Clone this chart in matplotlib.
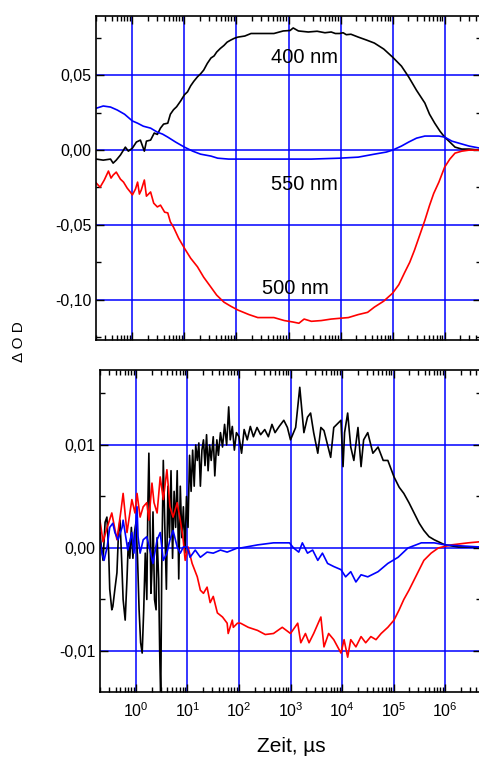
import numpy as np
import matplotlib
matplotlib.use('Agg')
import matplotlib.pyplot as plt
from matplotlib.ticker import LogLocator, MultipleLocator, FuncFormatter, NullFormatter, LogFormatterMathtext

plt.rcParams['font.family'] = ['Liberation Sans', 'DejaVu Sans']

# ---- oberes Bild: log10(t/us) und dOD ----
lg400 = [-0.695, -0.56, -0.42, -0.37, -0.31, -0.23, -0.135, -0.077, 0.0, 0.077, 0.154, 0.23, 0.27, 0.35,
         0.42, 0.48, 0.54, 0.60, 0.68, 0.73, 0.79, 0.85, 0.93, 1.0, 1.06, 1.12, 1.18, 1.25, 1.31, 1.37,
         1.44, 1.51, 1.57, 1.62, 1.69, 1.76, 1.82, 1.89, 1.96, 2.03, 2.16, 2.28, 2.47, 2.72, 2.90, 3.03,
         3.09, 3.19, 3.38, 3.55, 3.70, 3.82, 3.90, 3.98, 4.05, 4.11, 4.20, 4.34, 4.50, 4.65, 4.83, 5.0,
         5.17, 5.31, 5.46, 5.62, 5.71, 5.81, 5.91, 6.0, 6.10, 6.20, 6.33, 6.47, 6.68]
od400 = [-0.006, -0.0067, -0.006, -0.0087, -0.0067, -0.0033, 0.002, -0.0007, 0.0013, 0.0054, 0.0067, -0.0007, 0.006, 0.0067,
         0.0114, 0.0105, 0.0147, 0.0174, 0.018, 0.024, 0.027, 0.029, 0.033, 0.037, 0.039, 0.043, 0.046, 0.049, 0.051, 0.0535,
         0.058, 0.0616, 0.0630, 0.0656, 0.0680, 0.070, 0.0722, 0.0736, 0.0748, 0.0756, 0.0763, 0.078, 0.078, 0.078, 0.0797, 0.080,
         0.0817, 0.0797, 0.079, 0.0795, 0.0785, 0.079, 0.0780, 0.078, 0.0785, 0.0772, 0.0775, 0.0756, 0.0736, 0.0716, 0.0676, 0.0622,
         0.0562, 0.0489, 0.040, 0.0315, 0.024, 0.018, 0.0127, 0.0087, 0.0054, 0.002, 0.0007, 0.0007, 0.0]

lg550 = [-0.695, -0.56, -0.42, -0.29, -0.15, 0.0, 0.10, 0.21, 0.35, 0.48, 0.58, 0.68, 0.83, 1.0, 1.16, 1.31,
         1.51, 1.64, 1.85, 2.03, 2.47, 3.03, 3.44, 3.98, 4.34, 4.65, 4.88, 5.0, 5.17, 5.31, 5.46, 5.62,
         5.89, 6.0, 6.14, 6.27, 6.47, 6.68]
od550 = [0.028, 0.0295, 0.0288, 0.0268, 0.024, 0.0195, 0.018, 0.016, 0.0147, 0.012, 0.0107, 0.0087, 0.0054, 0.002, -0.0007, -0.0027,
         -0.004, -0.0054, -0.006, -0.006, -0.006, -0.006, -0.006, -0.0054, -0.0047, -0.0027, -0.0013, 0.0, 0.0027, 0.0054, 0.008, 0.0094,
         0.0094, 0.0087, 0.006, 0.0047, 0.0027, 0.0013]

lg500 = [-0.695, -0.62, -0.54, -0.46, -0.41, -0.37, -0.31, -0.23, -0.17, -0.10, -0.04, 0.0, 0.06, 0.10, 0.135, 0.17,
         0.23, 0.27, 0.35, 0.41, 0.48, 0.54, 0.62, 0.68, 0.73, 0.79, 0.89, 1.0, 1.12, 1.25, 1.37, 1.51,
         1.62, 1.76, 1.89, 2.03, 2.24, 2.41, 2.72, 2.92, 3.09, 3.20, 3.30, 3.44, 3.63, 3.82, 3.98, 4.15,
         4.34, 4.52, 4.65, 4.83, 5.0, 5.12, 5.23, 5.33, 5.42, 5.52, 5.62, 5.71, 5.79, 5.89, 6.0, 6.10,
         6.20, 6.33, 6.47, 6.68]
od500 = [-0.022, -0.0248, -0.020, -0.014, -0.0187, -0.0167, -0.0147, -0.0194, -0.0214, -0.0254, -0.028, -0.030, -0.026, -0.0214, -0.0294, -0.0268,
         -0.020, -0.0308, -0.028, -0.0355, -0.038, -0.0368, -0.0415, -0.042, -0.048, -0.0515, -0.059, -0.0656, -0.0723, -0.078, -0.085, -0.0917,
         -0.097, -0.1017, -0.1044, -0.107, -0.110, -0.112, -0.112, -0.114, -0.115, -0.1158, -0.113, -0.1145, -0.114, -0.113, -0.1125, -0.112,
         -0.110, -0.1085, -0.105, -0.101, -0.0957, -0.090, -0.082, -0.075, -0.067, -0.057, -0.047, -0.037, -0.029, -0.0214, -0.0114, -0.006,
         -0.002, -0.0007, 0.0, 0.0]

# ---- unteres Bild ----
lg_k = [-0.70, -0.67, -0.64, -0.60, -0.565, -0.53, -0.51, -0.47, -0.45, -0.41, -0.37, -0.34, -0.31, -0.28, -0.25, -0.21,
        -0.175, -0.15, -0.12, -0.09, -0.06, -0.03, 0.0, 0.03, 0.06, 0.09, 0.12, 0.15, 0.18, 0.21, 0.23, 0.25,
        0.27, 0.29, 0.31, 0.33, 0.36, 0.39, 0.41, 0.44, 0.46, 0.48, 0.50, 0.53, 0.56, 0.59, 0.62, 0.65,
        0.68, 0.71, 0.74, 0.77, 0.80, 0.83, 0.86, 0.89, 0.92, 0.95, 0.98, 1.01, 1.04, 1.07, 1.10, 1.13,
        1.16, 1.19, 1.22, 1.25, 1.28, 1.31, 1.34, 1.37, 1.40, 1.43, 1.46, 1.50, 1.53, 1.57, 1.60, 1.64,
        1.68, 1.72, 1.76, 1.80, 1.83, 1.87, 1.91, 1.95, 2.0, 2.05, 2.10, 2.16, 2.22, 2.28, 2.35, 2.42,
        2.50, 2.57, 2.64, 2.70, 2.78, 2.87, 2.94, 3.0, 3.10, 3.18, 3.26, 3.33, 3.39, 3.45, 3.53, 3.59,
        3.65, 3.78, 3.84, 3.98, 4.02, 4.05, 4.11, 4.17, 4.23, 4.31, 4.37, 4.42, 4.50, 4.60, 4.70, 4.80,
        4.89, 5.01, 5.11, 5.20, 5.30, 5.40, 5.50, 5.59, 5.69, 5.79, 6.0, 6.26, 6.67]
od_k = [0.0015, 0.0, -0.0012, 0.0025, 0.0030, -0.0005, -0.0040, -0.0060, -0.0057, -0.0040, -0.0024, 0.0015, 0.0027, -0.0010, -0.0050, -0.0070,
        -0.0030, 0.0005, -0.0010, 0.0020, -0.0010, 0.0015, 0.0025, -0.0010, -0.0060, -0.0092, -0.0102, -0.0060, -0.0005, -0.0050, 0.0040, 0.0092,
        0.0030, -0.0044, -0.0020, 0.0035, -0.0050, -0.0060, 0.0010, -0.0030, -0.0100, -0.0148, -0.0020, 0.0085, 0.0020, -0.0040, 0.0060, 0.0010,
        0.0075, -0.0010, 0.0055, 0.0020, 0.0075, -0.0030, 0.0060, 0.0010, 0.0040, -0.0005, 0.0050, 0.0020, 0.0090, 0.0055, 0.0095, 0.0060,
        0.0100, 0.0085, 0.0102, 0.0060, 0.0095, 0.0105, 0.0080, 0.0110, 0.0075, 0.0100, 0.0085, 0.0108, 0.0070, 0.0105, 0.0090, 0.0112,
        0.0098, 0.0120, 0.0100, 0.0137, 0.0105, 0.0118, 0.0095, 0.0112, 0.0108, 0.0092, 0.0115, 0.0105, 0.0118, 0.0108, 0.0117, 0.0110,
        0.0115, 0.0108, 0.0120, 0.0112, 0.0118, 0.0124, 0.0117, 0.0105, 0.0117, 0.0156, 0.0112, 0.0127, 0.0131, 0.0112, 0.0092, 0.0117,
        0.0114, 0.0088, 0.0117, 0.0124, 0.0079, 0.0112, 0.0131, 0.0098, 0.0085, 0.0117, 0.0079, 0.0105, 0.0112, 0.0092, 0.0098, 0.0085,
        0.0085, 0.0069, 0.0059, 0.0053, 0.0044, 0.0034, 0.0024, 0.0017, 0.0011, 0.0008, 0.0003, 0.0001, 0.0001]

lg_r = [-0.70, -0.64, -0.56, -0.47, -0.37, -0.29, -0.25, -0.175, -0.08, -0.02, 0.02, 0.08, 0.14, 0.21, 0.25, 0.31,
        0.35, 0.41, 0.47, 0.53, 0.60, 0.66, 0.72, 0.80, 0.86, 0.91, 0.955, 1.01, 1.09, 1.19, 1.25, 1.31,
        1.38, 1.44, 1.50, 1.58, 1.68, 1.77, 1.79, 1.87, 1.89, 1.97, 2.03, 2.18, 2.36, 2.51, 2.67, 2.84,
        3.0, 3.14, 3.20, 3.29, 3.36, 3.45, 3.59, 3.65, 3.74, 3.84, 3.98, 4.04, 4.11, 4.17, 4.27, 4.37,
        4.46, 4.56, 4.66, 4.76, 4.89, 5.01, 5.11, 5.20, 5.30, 5.40, 5.50, 5.59, 5.73, 5.87, 6.12, 6.45, 6.67]
od_r = [0.0027, 0.0006, 0.002, 0.0034, 0.0008, 0.0037, 0.0053, 0.0015, 0.0047, 0.0034, 0.0053, 0.003, 0.004, 0.0044, 0.0027, 0.0063,
        0.0044, 0.0034, 0.0069, 0.0047, 0.0076, 0.004, 0.003, 0.0044, 0.0027, 0.0011, -0.0012, 0.0001, -0.0015, -0.0028, -0.0041, -0.0044,
        -0.0038, -0.0053, -0.0047, -0.0063, -0.0067, -0.0073, -0.0083, -0.007, -0.0077, -0.0073, -0.0073, -0.0077, -0.008, -0.0084, -0.0083, -0.0077,
        -0.0083, -0.0073, -0.0092, -0.0083, -0.0092, -0.0083, -0.0067, -0.0096, -0.0083, -0.0089, -0.0102, -0.0089, -0.0106, -0.0089, -0.0096, -0.0086,
        -0.0092, -0.0086, -0.0089, -0.0083, -0.0077, -0.007, -0.006, -0.005, -0.0041, -0.0031, -0.0021, -0.0012, -0.0005, 0.0, 0.0003, 0.0005, 0.0006]

lg_b = [-0.70, -0.66, -0.62, -0.56, -0.51, -0.45, -0.41, -0.35, -0.27, -0.25, -0.19, -0.16, -0.08, -0.04, 0.02, 0.04,
        0.08, 0.14, 0.21, 0.27, 0.33, 0.41, 0.47, 0.53, 0.60, 0.66, 0.72, 0.80, 0.86, 0.92, 0.99, 1.05,
        1.15, 1.25, 1.38, 1.50, 1.64, 1.77, 1.97, 2.03, 2.36, 2.67, 2.98, 3.06, 3.16, 3.23, 3.33, 3.43,
        3.53, 3.62, 3.72, 3.84, 3.98, 4.07, 4.17, 4.27, 4.37, 4.50, 4.70, 4.89, 5.09, 5.28, 5.54, 5.79,
        6.0, 6.67]
od_b = [0.0008, -0.0005, -0.0012, 0.0001, 0.002, 0.0024, 0.0015, 0.0008, 0.002, 0.0027, 0.0008, -0.0002, 0.0015, -0.0005, 0.004, 0.0011,
        -0.0005, 0.0008, 0.0011, -0.0002, -0.0015, 0.0008, 0.0015, -0.0012, -0.0005, 0.0008, 0.0017, 0.0001, -0.0005, 0.0001, 0.0001, -0.0009,
        -0.0002, -0.0009, -0.0004, -0.0005, -0.0002, -0.0004, 0.0, 0.0, 0.0003, 0.0005, 0.0005, 0.0, -0.0004, 0.0005, -0.0005, -0.0002,
        -0.0012, -0.0005, -0.0015, -0.0018, -0.0021, -0.0028, -0.0023, -0.0033, -0.0026, -0.0028, -0.0023, -0.0015, -0.0009, 0.0, 0.0005, 0.0005,
        0.0003, 0.0001]

labels = ['400 nm', '550 nm', '500 nm']
label_lg = [3.30, 3.30, 3.14]
label_od = [0.0622, -0.0228, -0.0923]

fig = plt.figure(figsize=(4.79, 7.58), dpi=100)
ax1 = fig.add_axes([96 / 479, 1 - 340 / 758, 385 / 479, 324 / 758])
ax2 = fig.add_axes([100 / 479, 1 - 692 / 758, 381 / 479, 322 / 758])

komma = FuncFormatter(lambda v, p: ('%.2f' % v).replace('.', ','))

for ax in (ax1, ax2):
    ax.set_xscale('log')
    ax.set_xlim(0.2, 5e6)
    ax.xaxis.set_major_locator(LogLocator(base=10, numticks=20))
    ax.xaxis.set_minor_locator(LogLocator(base=10, subs=np.arange(2, 10), numticks=20))
    ax.xaxis.set_minor_formatter(NullFormatter())
    ax.grid(True, which='major', color='#0000ff', lw=1.1)
    ax.set_axisbelow(True)
    ax.tick_params(which='both', direction='in', top=True, right=True, width=1.0, labelsize=11.5)
    ax.tick_params(which='major', length=6)
    ax.tick_params(which='minor', length=3.5)
    ax.tick_params(axis='x', pad=6.5)
    for s in ax.spines.values():
        s.set_linewidth(1.2)
    ax.yaxis.set_major_formatter(komma)

ax1.plot(10 ** np.array(lg400), od400, color='black', lw=1.2)
ax1.plot(10 ** np.array(lg550), od550, color='#0000ff', lw=1.2)
ax1.plot(10 ** np.array(lg500), od500, color='#ff0000', lw=1.2)
for t, x, y in zip(labels, label_lg, label_od):
    ax1.text(10 ** x, y, t, ha='center', va='center', fontsize=14.5)
ax1.set_ylim(-0.127, 0.0897)
ax1.yaxis.set_major_locator(MultipleLocator(0.05))
ax1.yaxis.set_minor_locator(MultipleLocator(0.025))
ax1.tick_params(labelbottom=False)

ax2.plot(10 ** np.array(lg_k), od_k, color='black', lw=1.2)
ax2.plot(10 ** np.array(lg_r), od_r, color='#ff0000', lw=1.2)
ax2.plot(10 ** np.array(lg_b), od_b, color='#0000ff', lw=1.2)
ax2.set_ylim(-0.01398, 0.01728)
ax2.yaxis.set_major_locator(MultipleLocator(0.01))
ax2.yaxis.set_minor_locator(MultipleLocator(0.005))
ax2.xaxis.set_major_formatter(LogFormatterMathtext())

fig.text(19 / 479, 1 - 342 / 758, '\u0394 O D', rotation=90, ha='center', va='center', fontsize=11)
fig.text(291 / 479, 1 - 746 / 758, 'Zeit, \u00b5s', ha='center', va='center', fontsize=15)

fig.savefig('out.png', dpi=100)
